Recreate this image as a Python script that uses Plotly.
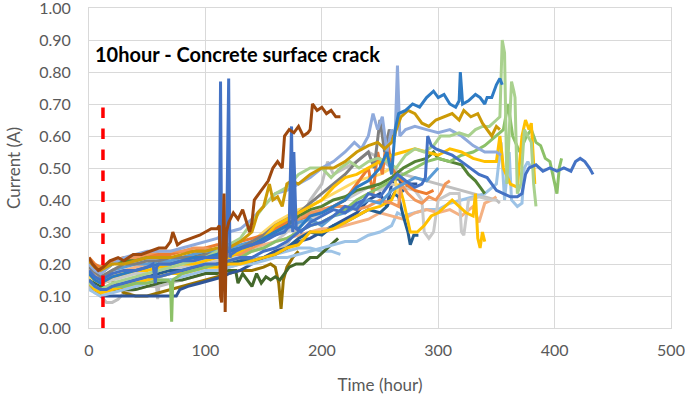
import plotly.graph_objects as go

# ---- data: (time in hours, current in A) ----
s_brown = [(0,.22),(3,.2),(8,.18),(12,.19),(18,.21),(25,.22),(30,.21),(38,.23),(45,.23),(52,.24),(60,.25),(66,.25),(70,.27),(72,.3),(74,.28),(76,.26),(80,.27),(88,.28),(95,.29),(100,.3),(105,.31),(110,.31),(112,.32),(113,.1),(114,.08),(116,.42),(117,.05),(118,.3),(120,.33),(124,.36),(128,.34),(132,.37),(136,.32),(138,.3),(140,.33),(142,.4),(146,.42),(150,.44),(154,.46),(158,.5),(162,.52),(166,.5),(168,.6),(172,.62),(176,.61),(180,.63),(184,.6),(188,.61),(190,.62),(192,.7),(196,.68),(200,.69),(204,.67),(208,.68),(212,.66),(216,.66)]
s_blue_spk = [(0,.18),(5,.16),(10,.15),(15,.16),(20,.17),(30,.18),(40,.18),(50,.19),(55,.2),(57,.14),(58,.19),(60,.2),(70,.2),(80,.21),(90,.21),(100,.22),(108,.22),(112,.22),(113,.77),(114,.22),(116,.21),(118,.22),(120,.78),(121,.22),(122,.23),(126,.24),(132,.25),(140,.26),(150,.27),(160,.29),(168,.3),(172,.32),(174,.63),(175,.3),(176,.55),(178,.31),(182,.3),(190,.33),(200,.35),(210,.37),(220,.36),(230,.39),(236,.4)]
s_blue_long = [(0,.15),(5,.13),(10,.12),(15,.12),(20,.13),(30,.14),(40,.15),(50,.16),(60,.16),(70,.17),(80,.18),(90,.19),(100,.2),(110,.2),(120,.21),(130,.22),(140,.22),(150,.24),(160,.25),(170,.27),(180,.3),(190,.32),(200,.33),(210,.35),(220,.38),(230,.37),(240,.42),(250,.41),(258,.45),(265,.48),(272,.46),(280,.44),(286,.45),(289,.47),(291,.6),(294,.57),(298,.56),(305,.55),(312,.54),(320,.52),(328,.5),(335,.48),(342,.47),(350,.43),(356,.42),(362,.41),(368,.41),(372,.42),(375,.48),(378,.5),(384,.51),(390,.49),(396,.5),(402,.49),(408,.5),(414,.49),(418,.52),(422,.53),(426,.52),(430,.5),(433,.48)]
s_blue_top = [(0,.17),(5,.15),(10,.14),(20,.16),(30,.17),(40,.18),(50,.19),(60,.2),(70,.2),(80,.21),(90,.22),(100,.22),(110,.23),(120,.24),(130,.25),(140,.26),(150,.28),(160,.3),(170,.32),(180,.31),(190,.35),(200,.36),(210,.38),(220,.4),(230,.44),(240,.46),(250,.5),(256,.55),(260,.48),(263,.62),(266,.67),(272,.68),(278,.7),(284,.69),(290,.72),(296,.74),(300,.72),(305,.73),(310,.7),(315,.69),(318,.71),(319,.8),(321,.7),(326,.71),(332,.73),(336,.72),(340,.7),(342,.72),(346,.72),(350,.76),(353,.78),(355,.76)]
s_gold = [(0,.21),(5,.19),(10,.18),(20,.2),(30,.2),(40,.21),(50,.22),(60,.22),(70,.22),(80,.23),(90,.24),(100,.24),(110,.25),(120,.25),(130,.27),(140,.3),(145,.36),(150,.38),(155,.45),(158,.4),(162,.41),(166,.38),(170,.45),(174,.46),(180,.45),(190,.48),(200,.5),(210,.5),(220,.52),(230,.55),(240,.57),(248,.58),(254,.56),(260,.58),(264,.62),(268,.66),(274,.68),(280,.67),(286,.64),(292,.63),(298,.65),(305,.66),(312,.67),(318,.65),(322,.68),(328,.66),(334,.67),(338,.64),(342,.62),(346,.6),(350,.63),(353,.62)]
s_green_pk = [(0,.14),(5,.13),(10,.12),(20,.14),(30,.15),(40,.16),(50,.17),(60,.18),(70,.19),(80,.2),(90,.21),(100,.22),(110,.24),(120,.26),(130,.28),(140,.33),(150,.38),(160,.42),(170,.44),(180,.48),(190,.5),(200,.5),(208,.47),(216,.5),(224,.52),(232,.5),(240,.52),(248,.53),(256,.52),(264,.5),(272,.54),(280,.56),(288,.55),(296,.57),(302,.6),(310,.6),(318,.61),(326,.6),(332,.62),(338,.63),(344,.63),(350,.65),(353,.66),(355,.9),(357,.86),(359,.45),(361,.6),(363,.77),(365,.74),(366,.72),(368,.42),(371,.45),(374,.62),(377,.6),(380,.58),(382,.45),(384,.38)]
s_green_lt = [(0,.15),(5,.13),(10,.12),(20,.13),(30,.13),(40,.14),(50,.14),(60,.15),(68,.15),(70,.14),(71,.02),(72,.15),(80,.17),(90,.18),(100,.19),(110,.2),(120,.21),(130,.22),(140,.24),(150,.25),(160,.27),(170,.28),(180,.3),(190,.32),(200,.33),(210,.35),(220,.37),(230,.4),(240,.42),(250,.44),(260,.46),(270,.48),(280,.5),(290,.52),(300,.53),(310,.52),(320,.54),(330,.55),(340,.57),(350,.6),(356,.62),(360,.7),(364,.6),(370,.55),(376,.6),(380,.62),(384,.58),(388,.57),(392,.53),(396,.52),(400,.45),(402,.42),(404,.5),(406,.53)]
s_lavender = [(0,.2),(5,.18),(10,.17),(20,.2),(30,.22),(40,.23),(50,.24),(60,.24),(70,.24),(80,.25),(90,.26),(100,.27),(110,.28),(120,.3),(130,.31),(140,.34),(150,.38),(160,.42),(170,.43),(180,.45),(190,.47),(200,.5),(210,.52),(220,.55),(228,.58),(234,.56),(240,.6),(244,.67),(248,.62),(252,.66),(256,.55),(260,.62),(263,.6),(265,.82),(267,.6),(272,.62),(280,.63),(290,.62),(300,.61),(310,.62),(320,.6),(330,.57),(340,.55),(350,.55),(354,.54)]
s_dkgray = [(0,.19),(10,.16),(20,.18),(30,.2),(40,.2),(50,.21),(60,.21),(70,.22),(80,.22),(90,.22),(100,.23),(110,.23),(120,.24),(130,.25),(140,.27),(150,.29),(160,.32),(170,.34),(180,.36),(190,.39),(200,.42),(210,.45),(220,.48),(230,.52),(240,.55),(245,.5),(250,.65),(254,.55),(258,.62),(262,.58)]
s_yellow_hi = [(0,.17),(5,.15),(10,.14),(20,.16),(30,.17),(40,.18),(50,.18),(60,.19),(70,.19),(80,.2),(90,.2),(100,.21),(110,.22),(120,.22),(130,.24),(140,.26),(150,.28),(160,.32),(170,.34),(180,.36),(190,.38),(200,.4),(210,.44),(220,.47),(230,.48),(240,.5),(250,.52),(260,.54),(270,.55),(280,.56),(290,.55),(300,.54),(310,.56),(320,.55),(330,.53),(340,.52),(350,.52),(353,.6),(356,.5),(362,.45),(368,.44),(372,.6),(375,.65),(378,.62),(380,.64),(383,.45)]
s_yellow_lo = [(0,.14),(5,.12),(10,.11),(20,.12),(30,.13),(40,.14),(50,.15),(60,.16),(70,.17),(80,.17),(90,.18),(100,.19),(110,.19),(120,.2),(130,.2),(140,.21),(150,.22),(160,.23),(170,.25),(180,.26),(190,.3),(200,.3),(210,.31),(220,.33),(230,.35),(240,.37),(250,.38),(260,.4),(266,.45),(270,.4),(276,.3),(282,.3),(288,.32),(294,.35),(300,.36),(306,.38),(312,.4),(318,.38),(324,.36),(330,.35),(332,.42),(334,.28),(336,.25),(338,.3),(340,.27)]
s_orange = [(0,.22),(5,.2),(10,.19),(20,.21),(30,.22),(40,.22),(50,.23),(60,.23),(70,.23),(80,.24),(90,.24),(100,.25),(110,.26),(120,.26),(130,.27),(140,.28),(150,.29),(160,.31),(170,.33),(180,.34),(190,.35),(200,.37),(210,.38),(220,.4),(230,.45),(240,.5),(244,.42),(248,.55),(252,.48),(256,.6),(260,.5),(266,.47),(272,.45),(280,.43),(290,.42),(296,.43)]
s_salmon = [(0,.21),(5,.19),(10,.18),(20,.2),(30,.21),(40,.22),(50,.23),(60,.24),(70,.24),(80,.24),(90,.25),(100,.25),(110,.24),(120,.23),(130,.23),(140,.25),(150,.27),(160,.3),(170,.32),(180,.34),(190,.36),(200,.37),(210,.38),(220,.38),(230,.37),(240,.38),(250,.4),(260,.39),(266,.38),(268,.45),(274,.42),(280,.4),(286,.39),(292,.41),(298,.4),(302,.42),(306,.45),(310,.46)]
s_salmon_lo = [(0,.18),(10,.15),(20,.17),(30,.18),(40,.19),(50,.2),(60,.2),(70,.2),(80,.21),(90,.21),(100,.22),(110,.23),(120,.24),(130,.24),(140,.25),(150,.26),(160,.27),(170,.28),(180,.29),(190,.3),(200,.31),(210,.31),(220,.32),(230,.33),(240,.34),(250,.36),(260,.35),(270,.34),(280,.36),(290,.37),(300,.36),(310,.37),(320,.35),(330,.38),(335,.33),(340,.39),(346,.4),(350,.41)]
s_gray = [(0,.13),(5,.11),(10,.1),(15,.08),(20,.08),(25,.09),(30,.11),(40,.12),(50,.13),(58,.13),(59,.09),(60,.13),(70,.14),(80,.15),(90,.16),(100,.17),(110,.18),(120,.19),(130,.2),(140,.21),(150,.22),(160,.24),(170,.26),(180,.32),(190,.4),(200,.45),(205,.52),(210,.48),(220,.5),(230,.52),(240,.55),(250,.53),(260,.5),(270,.48),(280,.47),(290,.46),(300,.45),(310,.44),(320,.43),(330,.42),(340,.41),(350,.4),(353,.39)]
s_gray_lt = [(0,.16),(10,.14),(20,.15),(30,.16),(40,.17),(50,.17),(60,.18),(70,.18),(80,.19),(90,.2),(100,.2),(110,.21),(120,.22),(130,.23),(140,.24),(150,.25),(160,.27),(170,.3),(180,.32),(190,.34),(200,.36),(210,.38),(220,.4),(230,.42),(240,.44),(250,.43),(260,.45),(270,.44),(280,.43),(286,.4),(288,.3),(292,.28),(296,.3),(300,.4),(310,.42),(318,.42),(320,.3),(322,.29),(326,.4),(335,.41),(345,.4),(350,.4)]
s_navy = [(0,.15),(10,.12),(20,.13),(30,.14),(40,.15),(50,.16),(60,.17),(70,.18),(80,.18),(90,.19),(100,.19),(110,.2),(120,.2),(130,.21),(140,.21),(150,.22),(160,.23),(170,.25),(180,.28),(190,.3),(200,.29),(210,.32),(220,.33),(230,.35),(240,.37),(250,.36),(256,.38),(262,.42),(266,.41),(270,.35),(274,.3),(276,.26),(279,.29),(283,.29)]
s_dkgreen = [(0,.16),(10,.13),(20,.12),(30,.12),(40,.12),(50,.13),(60,.14),(70,.15),(80,.15),(90,.16),(100,.17),(110,.17),(120,.18),(126,.18),(128,.14),(132,.17),(136,.15),(140,.13),(144,.17),(148,.14),(152,.16),(156,.15),(160,.16),(164,.15),(168,.17),(172,.19),(178,.2),(184,.2),(190,.22),(196,.22),(202,.24),(208,.26),(214,.28)]
s_green_mid = [(0,.2),(10,.17),(20,.2),(30,.21),(40,.21),(50,.22),(60,.22),(70,.22),(80,.22),(90,.23),(100,.23),(110,.24),(120,.24),(130,.25),(140,.26),(150,.28),(160,.3),(170,.32),(180,.35),(190,.37),(200,.38),(210,.4),(220,.41),(230,.43),(240,.44),(250,.45),(260,.47),(270,.5),(280,.52),(290,.53),(296,.55),(300,.53),(310,.52),(320,.51),(326,.48),(332,.46),(336,.44),(340,.42)]
s_dkgold = [(0,.17),(10,.14),(20,.15),(30,.11),(40,.1),(50,.1),(60,.11),(70,.12),(80,.13),(90,.14),(100,.15),(110,.16),(120,.17),(130,.18),(140,.18),(150,.19),(156,.2),(160,.19),(163,.14),(165,.06),(167,.15),(170,.19),(175,.22),(180,.24)]
s_sky_a = [(0,.13),(10,.11),(20,.12),(30,.13),(40,.14),(50,.15),(60,.16),(70,.17),(80,.17),(90,.18),(100,.19),(110,.2),(120,.2),(130,.21),(140,.22),(150,.22),(160,.23),(170,.24),(180,.25),(190,.25),(200,.24),(208,.24),(216,.23)]
s_sky_b = [(0,.12),(10,.1),(20,.11),(30,.12),(40,.13),(50,.14),(60,.15),(70,.15),(80,.16),(90,.17),(100,.18),(110,.18),(120,.19),(130,.2),(140,.2),(150,.21),(160,.22),(170,.22),(180,.23),(190,.24),(200,.25),(210,.26),(220,.27),(230,.27),(240,.29),(250,.3),(260,.32),(265,.36),(270,.35),(280,.36),(290,.37),(300,.37),(310,.39),(320,.4),(330,.41),(340,.42),(350,.45),(354,.58),(357,.4),(361,.55),(363,.4),(368,.38),(372,.39),(374,.5),(377,.52),(380,.5)]
s_blue_low = [(0,.14),(5,.12),(10,.1),(20,.1),(30,.1),(40,.1),(50,.1),(60,.1),(70,.1),(75,.1),(78,.12),(85,.13),(95,.14),(105,.15),(115,.16),(120,.17),(130,.18),(140,.2),(150,.22),(160,.24),(170,.25),(180,.27),(190,.28),(200,.3),(210,.32),(220,.34),(230,.36),(240,.4),(250,.42),(256,.38),(260,.45),(266,.47),(270,.43),(276,.45),(282,.45)]
s_blue_mid = [(0,.17),(10,.15),(20,.18),(30,.19),(40,.2),(50,.2),(60,.21),(70,.21),(80,.22),(90,.23),(100,.24),(110,.24),(120,.25),(130,.26),(140,.27),(150,.28),(160,.29),(170,.31),(180,.33),(190,.34),(200,.32),(210,.35),(220,.36),(230,.38),(240,.4),(250,.39),(260,.43),(270,.45),(280,.47),(290,.46),(300,.5)]
s_yellow_mid = [(0,.16),(10,.14),(20,.16),(30,.17),(40,.18),(50,.19),(60,.2),(70,.2),(80,.21),(90,.21),(100,.22),(110,.23),(120,.24),(130,.25),(140,.27),(150,.3),(160,.33),(170,.35),(180,.37),(190,.38),(200,.4),(210,.42),(220,.44),(230,.46),(240,.47),(250,.48),(260,.5),(266,.42),(270,.45),(276,.46)]

crack_t = [12, 12]
crack_v = [0.0, 0.72]

x_ticks = [0, 100, 200, 300, 400, 500]
y_ticks = [0.0, 0.1, 0.2, 0.3, 0.4, 0.5, 0.6, 0.7, 0.8, 0.9, 1.0]

series = [
    (s_sky_a, "#9DC3E6"), (s_gray, "#BFBFBF"), (s_dkgold, "#997300"), (s_dkgreen, "#43682B"),
    (s_blue_low, "#2F5597"), (s_sky_b, "#9DC3E6"), (s_salmon_lo, "#F4B183"), (s_gray_lt, "#C9C9C9"),
    (s_navy, "#255E91"), (s_yellow_lo, "#FFC000"), (s_yellow_mid, "#FFD966"), (s_orange, "#ED7D31"),
    (s_salmon, "#F1975A"), (s_green_mid, "#548235"), (s_blue_mid, "#5B9BD5"), (s_dkgray, "#7F7F7F"),
    (s_green_lt, "#8CC168"), (s_yellow_hi, "#FFC000"), (s_lavender, "#8FAADC"), (s_green_pk, "#A9D18E"),
    (s_gold, "#CC9A06"), (s_blue_long, "#4472C4"), (s_blue_top, "#2E7BC4"), (s_blue_spk, "#4472C4"),
    (s_brown, "#9E480E"),
]

fig = go.Figure()
for pts, col in series:
    t = [p[0] for p in pts]
    v = [p[1] for p in pts]
    fig.add_trace(go.Scatter(x=t, y=v, mode="lines", line=dict(color=col, width=3),
                             showlegend=False, hoverinfo="skip"))

fig.add_trace(go.Scatter(x=crack_t, y=crack_v, mode="lines",
                         line=dict(color="#FF0000", width=3.5, dash="dash"),
                         showlegend=False, hoverinfo="skip"))

FONT = "Lato, Open Sans, sans-serif"
tick_font = dict(family=FONT, size=16, color="#595959")
fig.update_layout(
    width=685, height=398,
    margin=dict(l=89, r=14, t=8, b=70),
    paper_bgcolor="white", plot_bgcolor="white",
    xaxis=dict(range=[0, 500], tickvals=x_ticks, showgrid=True, gridcolor="#D9D9D9", gridwidth=1,
               zeroline=False, showline=True, linecolor="#D9D9D9", mirror=True, automargin=False,
               ticklabeloverflow="allow",
               ticks="outside", ticklen=8, tickcolor="rgba(0,0,0,0)", tickfont=tick_font,
               title=dict(text="Time (hour)", font=dict(family=FONT, size=17, color="#595959"), standoff=20)),
    yaxis=dict(range=[0, 1.0], tickvals=y_ticks, tickformat=".2f", showgrid=True, gridcolor="#D9D9D9", gridwidth=1,
               zeroline=False, showline=True, linecolor="#D9D9D9", mirror=True, automargin=False,
               ticklabeloverflow="allow",
               ticks="outside", ticklen=14, tickcolor="rgba(0,0,0,0)", tickfont=tick_font,
               title=dict(text="Current (A)", font=dict(family=FONT, size=17, color="#595959"), standoff=14)),
    annotations=[dict(text="<b>10hour - Concrete surface crack</b>", x=0.007, y=0.855, xref="paper", yref="paper",
                      xanchor="left", yanchor="middle", showarrow=False,
                      font=dict(family=FONT, size=20, color="black"))],
)
fig.write_html("out.html", config={"displayModeBar": False},
               post_script="document.body.style.margin='0';")
